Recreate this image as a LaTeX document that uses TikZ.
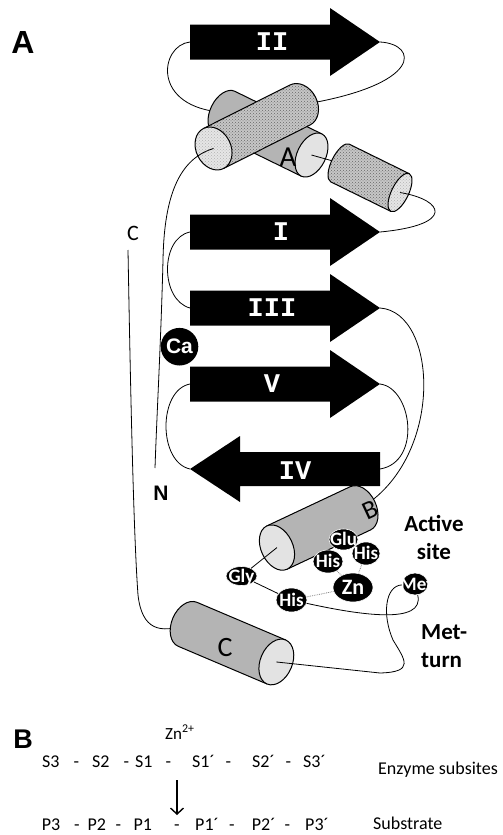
\documentclass[tikz,border=0pt]{standalone}
\usepackage{fontspec}
\setmainfont{Carlito}
\newfontfamily\strandfont{Liberation Mono}
\newfontfamily\panelfont{Liberation Sans}
\usetikzlibrary{patterns,shapes.geometric,arrows.meta}
\definecolor{rodgray}{HTML}{B4B4B4}
\definecolor{capgray}{HTML}{E3E3E3}
\definecolor{dotgray}{HTML}{C6C6C6}
\definecolor{dotcap} {HTML}{E6E6E6}

% helix as a cylinder: back end at (#1back), turned by #2, length #3,
% radius #4, half width of the end cap #5, look #6 (rod or dot)
\newcommand\helixrod[6]{%
  \begin{scope}[shift={(#1back)}, rotate=#2]
    \filldraw[#6 body] (0,#4) -- (#3,#4) -- (#3,-#4) -- (0,-#4)
      arc[start angle=-90, end angle=-270, x radius=#5, y radius=#4] -- cycle;
    \filldraw[#6 cap] (#3,0) coordinate (#1cap) ellipse[x radius=#5, y radius=#4];
  \end{scope}}
% residue name sitting in the middle of its ellipse
\newcommand\restext[1]{\raisebox{-0.32em}[0pt][0pt]{\makebox[0pt]{#1}}}

\begin{document}
\begin{tikzpicture}[x=1pt, y=-1pt, line join=round,
    backbone/.style={line width=0.8pt},
    rod body/.style={fill=rodgray, draw, line width=1pt},
    rod cap/.style={fill=capgray, draw, line width=1pt},
    dot body/.style={draw, line width=1pt, preaction={fill=dotgray},
      pattern=crosshatch dots, pattern color=black!60},
    dot cap/.style={draw, line width=1pt, preaction={fill=dotcap},
      pattern=crosshatch dots, pattern color=gray!60},
    strandlab/.style={text=white, inner sep=0pt,
      font=\strandfont\bfseries\fontsize{27}{27}\selectfont},
    res/.style={ellipse, fill=black, draw=white, line width=0.6pt,
      text=white, inner sep=0pt, font=\bfseries\fontsize{19}{19}\selectfont},
    ion/.style={circle, fill=black, text=white, minimum size=37.6pt,
      inner sep=0pt, font=\panelfont\bfseries\fontsize{21}{21}\selectfont},
    zlink/.style={densely dotted, gray, line width=0.8pt},
    sitetag/.style={inner sep=0pt, font=\bfseries\fontsize{23}{28}\selectfont},
    panel/.style={inner sep=0pt, font=\panelfont\bfseries\fontsize{32}{32}\selectfont},
    seq/.style={inner sep=0pt, anchor=base west, font=\fontsize{18}{18}\selectfont}]
  \useasboundingbox (0,0) rectangle (503,835);

  % beta strands
  \foreach \y/\lab/\nm/\lx in {42/II/s2/272, 232/I/s1/281, 308/III/s3/272, 384/V/s5/272}{
    \fill (190,\y-17.5) -- (330,\y-17.5) -- (330,\y-34) -- (380,\y)
      -- (330,\y+34) -- (330,\y+17.5) -- (190,\y+17.5) -- cycle;
    \coordinate (\nm-l) at (190,\y);
    \coordinate (\nm-t) at (380,\y);
    \node[strandlab] (\nm) at (\lx,\y) {\lab};
  }
  \fill (380,452) -- (240,452) -- (240,436) -- (190,469)
    -- (240,502) -- (240,486) -- (380,486) -- cycle;
  \coordinate (s4-l) at (380,469);
  \coordinate (s4-t) at (190,469);
  \node[strandlab] (s4) at (295,471) {IV};

  % back ends of the helices, chain ends
  \coordinate (hAback) at (224.5,112.4);
  \coordinate (hDback) at (300,105);
  \coordinate (hSback) at (340,163);
  \coordinate (hBback) at (360.4,508.3);
  \coordinate (hCback) at (187.6,624.3);
  \coordinate (cend) at (128,250);
  \coordinate (nend) at (155,468);

  % loops running behind the helices
  \draw[backbone] (s2-l) .. controls (160,45) and (150,108) .. (hAback);
  \draw[backbone] (s2-t) .. controls (418,44) and (425,85) .. (hDback);
  \draw[backbone] (s1-l) .. controls (160,238) and (160,300) .. (s3-l);
  \draw[backbone] (s3-t) .. controls (438,312) and (445,458) .. (hBback);
  \draw[backbone] (s5-t) .. controls (412,388) and (422,462) .. (s4-l);
  \draw[backbone] (s5-l) .. controls (158,390) and (158,462) .. (s4-t);
  \draw[backbone] (cend) .. controls (131,420) and (134,540) .. (138,595)
    .. controls (142,630) and (160,634) .. (hCback);

  % helices
  \helixrod{hA}{-26.1}{96.9}{23.5}{14.3}{rod}
  \helixrod{hD}{206.7}{96.8}{22.4}{17.4}{dot}
  \draw[backbone] (hAcap) -- (hSback);
  \helixrod{hS}{-26.2}{66.9}{21}{8.5}{dot}
  \draw[backbone] (hScap) .. controls (445,200) and (455,225) .. (s1-t);
  \draw[backbone] (hDcap) .. controls (175,160) and (164,205) .. (163,260)
    .. controls (161,340) and (157,410) .. (nend);
  \helixrod{hB}{205.2}{92.2}{23.9}{15.9}{rod}
  \helixrod{hC}{-23}{96.4}{23.9}{16}{rod}
  \node[inner sep=0pt, font=\fontsize{29}{29}\selectfont] (labA) at (288,157) {A};
  \node[inner sep=0pt, rotate=25, font=\fontsize{26}{26}\selectfont] (labB) at (370,510) {B};
  \node[inner sep=0pt, font=\fontsize{28}{28}\selectfont] (labC) at (225,648) {C};

  % active site
  \node[res, minimum width=29pt, minimum height=21pt] (glu) at (343.5,539.5) {\restext{Glu}};
  \node[res, minimum width=28pt, minimum height=23pt] (his1) at (366,553.5) {\restext{His}};
  \node[res, minimum width=30pt, minimum height=23pt] (his2) at (328,561.5) {\restext{His}};
  \node[res, minimum width=40pt, minimum height=29pt,
    font=\bfseries\fontsize{22}{22}\selectfont] (zn) at (353,587.5) {\restext{Zn}};
  \node[res, minimum width=31pt, minimum height=19pt] (gly) at (241.5,576) {\restext{Gly}};
  \node[res, minimum width=31pt, minimum height=24pt] (his3) at (291.5,600) {\restext{His}};
  \node[res, minimum width=26pt, minimum height=22pt] (met) at (415,584) {\restext{\hspace{3pt}Met}};
  \draw[zlink] (his3) -- (zn);
  \draw[zlink] (his2) -- (zn);
  \draw[zlink] (his1) -- (zn);
  \draw[backbone] (hBcap) -- (gly);
  \draw[backbone] (gly) -- (his3);
  \draw[backbone] (his3) .. controls (360,615) and (425,625) .. (met);
  \draw[backbone] (met) .. controls (385,586) and (382,615) .. (393,640)
    .. controls (405,660) and (415,672) .. (380,673) -- (hCcap);

  \node[ion] (ca) at (179.5,346.7) {Ca};
  \node[inner sep=0pt, font=\fontsize{22}{22}\selectfont] (cterm) at (133,233) {C};
  \node[inner sep=0pt, font=\panelfont\bfseries\fontsize{21}{21}\selectfont] (nterm) at (161,493) {N};
  \node[sitetag, align=center] (act) at (434,537) {Active\\site};
  \node[sitetag, align=left, anchor=west] (mturn) at (421,646) {Met-\\turn};
  \node[panel] (pa) at (23,42) {A};

  % subsites and substrate
  \node[panel, font=\panelfont\bfseries\fontsize{27}{27}\selectfont] (pb) at (23,739) {B};
  \node[seq, font=\fontsize{17}{17}\selectfont] (zn2) at (165,739) {Zn\textsuperscript{2+}};
  \foreach \x/\t [count=\i] in {42/S3, 73.3/-, 92/S2, 123.3/-, 135/S1, 165.3/-,
      192/S1´, 225.3/-, 252/S2´, 285.3/-, 303/S3´}
    \node[seq] (sub\i) at (\x,767) {\t};
  \foreach \x/\t [count=\i] in {41.7/P3, 74/-, 87.3/P2, 115.5/-, 133.3/P1, 174/-,
      195/P1´, 229/-, 251.7/P2´, 284.5/-, 305/P3´}
    \node[seq] (pep\i) at (\x,830) {\t};
  \node[seq] (enz) at (378,774) {Enzyme subsites};
  \node[seq] (subs) at (373,829) {Substrate};
  \coordinate (cuttop) at (177,780);
  \coordinate (cutbot) at (177,815);
  \draw[-{Straight Barb[length=6pt, width=13pt]}, line width=1.4pt] (cuttop) -- (cutbot);
\end{tikzpicture}
\end{document}
